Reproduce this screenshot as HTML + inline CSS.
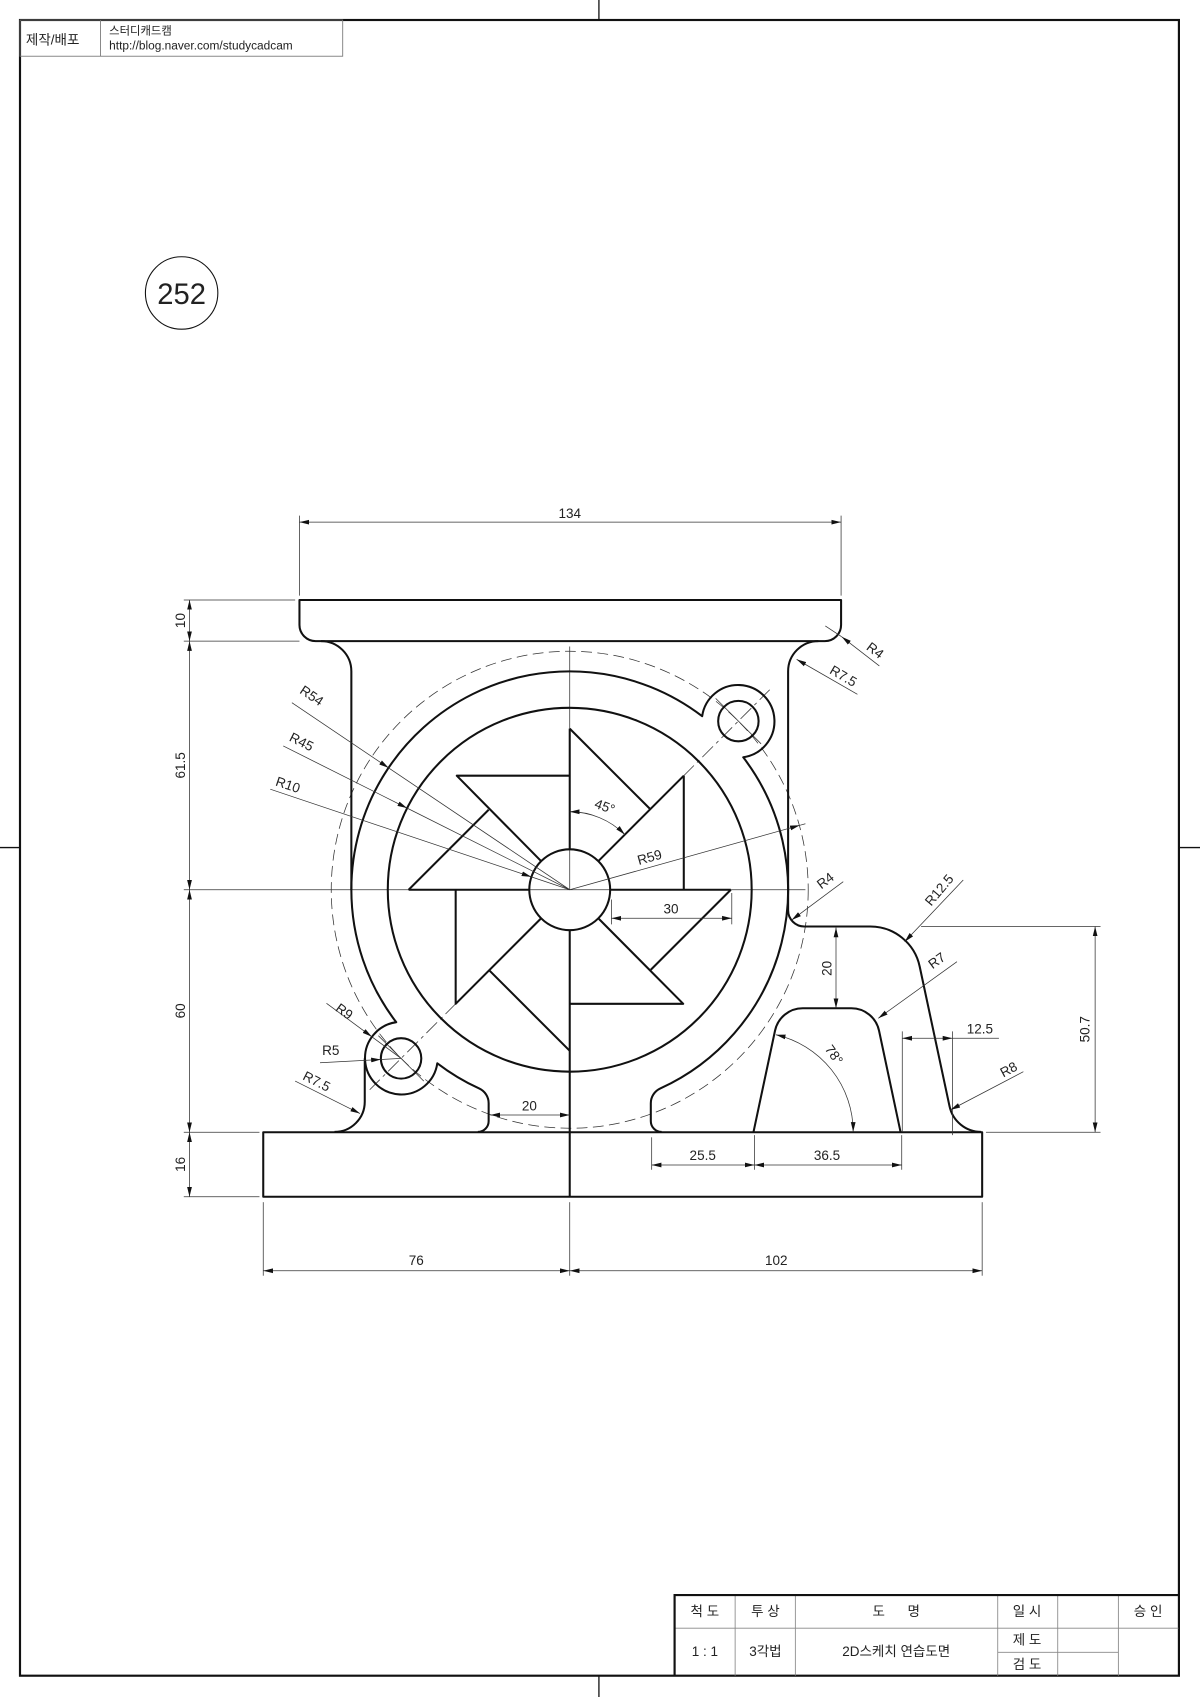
<!DOCTYPE html>
<html><head><meta charset="utf-8"><style>
html,body{margin:0;padding:0;background:#fff;}
svg{display:block;}
text{font-family:"Liberation Sans","Noto Sans CJK KR",sans-serif;fill:#222;}
</style></head><body>
<svg width="1200" height="1697" viewBox="0 0 1110 1569.7" preserveAspectRatio="none" xmlns="http://www.w3.org/2000/svg">
<defs>
<marker id="a" markerUnits="userSpaceOnUse" markerWidth="10" markerHeight="6" refX="9" refY="3" orient="auto-start-reverse" viewBox="0 0 10 6"><path d="M0,0.8 L9,3 L0,5.2 Z" fill="#111"/></marker>
</defs>
<rect x="0" y="0" width="1110" height="1570" fill="#fff"/>
<!-- frame -->
<rect x="18.5" y="18.5" width="1072" height="1531.5" fill="none" stroke="#111" stroke-width="2"/>
<g stroke="#111" stroke-width="1.2">
<line x1="554" y1="0" x2="554" y2="18"/><line x1="554" y1="1550" x2="554" y2="1570"/>
<line x1="0" y1="784" x2="18" y2="784"/><line x1="1090" y1="784" x2="1110" y2="784"/>
</g>
<!-- top-left box -->
<g stroke="#777" stroke-width="0.8" fill="none">
<rect x="18.5" y="18.5" width="298.5" height="33.5"/><line x1="93" y1="18.5" x2="93" y2="52"/>
</g>
<text x="24" y="41" font-size="12.5">제작/배포</text>
<text x="101" y="32" font-size="10.5">스터디캐드캠</text>
<text x="101" y="46" font-size="11">http://blog.naver.com/studycadcam</text>
<!-- 252 -->
<circle cx="168" cy="271" r="33.5" fill="none" stroke="#111" stroke-width="1"/>
<text x="168" y="281" font-size="27" text-anchor="middle">252</text>

<!-- title block -->
<g stroke="#888" stroke-width="0.8" fill="none">
<line x1="624" y1="1506" x2="1090" y2="1506"/>
<line x1="923" y1="1528.4" x2="1034.5" y2="1528.4"/>
<line x1="680" y1="1475.4" x2="680" y2="1550"/>
<line x1="735.7" y1="1475.4" x2="735.7" y2="1550"/>
<line x1="922.9" y1="1475.4" x2="922.9" y2="1550"/>
<line x1="978.4" y1="1475.4" x2="978.4" y2="1550"/>
<line x1="1034.5" y1="1475.4" x2="1034.5" y2="1550"/>
</g>
<g stroke="#111" stroke-width="2" fill="none">
<line x1="623" y1="1475.4" x2="1090" y2="1475.4"/>
<line x1="624" y1="1475.4" x2="624" y2="1550"/>
</g>
<g font-size="12.5" text-anchor="middle">
<text x="652" y="1495">척 도</text>
<text x="708" y="1495">투 상</text>
<text x="829" y="1495">도 &#160; &#160; &#160;명</text>
<text x="950" y="1495">일 시</text>
<text x="1062" y="1495">승 인</text>
<text x="652" y="1532">1 : 1</text>
<text x="708" y="1532">3각법</text>
<text x="829" y="1532">2D스케치 연습도면</text>
<text x="950" y="1521">제 도</text>
<text x="950" y="1544">검 도</text>
</g>

<!-- thin center lines -->
<g stroke="#333" stroke-width="0.7" fill="none">
<line x1="170" y1="823" x2="745" y2="823"/>
<line x1="527" y1="598" x2="527" y2="823"/>
<circle cx="527" cy="823" r="220.6" stroke-dasharray="10,5"/>
<line x1="632" y1="718" x2="712" y2="638" stroke-dasharray="14,4,3,4"/>
<line x1="662" y1="646" x2="704" y2="688"/>
<line x1="422" y1="928" x2="342" y2="1008" stroke-dasharray="14,4,3,4"/>
<line x1="350" y1="958" x2="392" y2="1000"/>
</g>

<!-- thick geometry -->
<g stroke="#111" stroke-width="1.9" fill="none" stroke-linejoin="round">
<path d="M277,555 H778 V578 A15,15 0 0 1 763,593 H292 A15,15 0 0 1 277,578 Z"/>
<path d="M297,593 A28,28 0 0 1 325,621 V823"/>
<path d="M757,593 A28,28 0 0 0 729,621 V842 A15,15 0 0 0 744,857 H805 A46.7,46.7 0 0 1 850.7,894 L878.3,1023.2 A30,30 0 0 0 907.6,1047"/>
<rect x="243.5" y="1047.3" width="665" height="59.7"/>
<!-- ring outer -->
<path d="M325,823 A201.9,201.9 0 0 0 366.5,945.5 A33.6,33.6 0 1 0 404.5,983.5 A201.9,201.9 0 0 0 443.2,1006.8 A15,15 0 0 1 452,1020.5 V1037 A10,10 0 0 1 442,1047"/>
<path d="M337.4,979 V1019 A28,28 0 0 1 309.4,1047"/>
<path d="M612,1047 A10,10 0 0 1 602,1037 V1020.5 A15,15 0 0 1 610.8,1006.8 A201.9,201.9 0 0 0 687.5,700.5 A33.6,33.6 0 1 0 649.5,662.5 A201.9,201.9 0 0 0 325,823"/>
<circle cx="527" cy="823" r="168.3"/>
<circle cx="527" cy="823" r="37.4"/>
<circle cx="371" cy="979" r="18.7"/>
<circle cx="683" cy="667" r="18.7"/>
<!-- hump -->
<path d="M697,1047 L716.9,953.3 A26.2,26.2 0 0 1 742.5,932.6 H787.5 A26.2,26.2 0 0 1 813.1,953.3 L833,1047"/>
<!-- pinwheel -->
<line x1="378" y1="823" x2="489.6" y2="823"/>
<line x1="527" y1="674" x2="527" y2="785.6"/>
<line x1="676" y1="823" x2="564.4" y2="823"/>
<line x1="527" y1="860.4" x2="527" y2="1107"/>
<line x1="378" y1="823" x2="452" y2="749"/>
<line x1="527" y1="674" x2="601" y2="748"/>
<line x1="676" y1="823" x2="602" y2="897"/>
<line x1="527" y1="972" x2="453" y2="898"/>
<path d="M527,717.5 H422.5 L500.6,796.6"/>
<path d="M632.5,717.5 V823 M632.5,717.5 L553.4,796.6"/>
<path d="M527,928.5 H632 L553.4,849.4"/>
<path d="M421.5,823 V928.5 L500.6,849.4"/>
</g>

<!-- dimensions -->
<g stroke="#333" stroke-width="0.7" fill="none">
<!-- 134 -->
<line x1="277" y1="477" x2="277" y2="551"/><line x1="778" y1="477" x2="778" y2="551"/>
<line x1="277" y1="483" x2="778" y2="483" marker-start="url(#a)" marker-end="url(#a)"/>
<!-- left ext -->
<line x1="170" y1="555" x2="273" y2="555"/>
<line x1="170" y1="593" x2="277" y2="593"/>
<line x1="170" y1="1047.3" x2="240" y2="1047.3"/>
<line x1="170" y1="1107" x2="240" y2="1107"/>
<line x1="175.3" y1="555" x2="175.3" y2="593" marker-start="url(#a)" marker-end="url(#a)"/>
<line x1="175.3" y1="593" x2="175.3" y2="823" marker-start="url(#a)" marker-end="url(#a)"/>
<line x1="175.3" y1="823" x2="175.3" y2="1047.3" marker-start="url(#a)" marker-end="url(#a)"/>
<line x1="175.3" y1="1047.3" x2="175.3" y2="1107" marker-start="url(#a)" marker-end="url(#a)"/>
<!-- bottom 76/102 -->
<line x1="243.5" y1="1112" x2="243.5" y2="1180"/><line x1="527" y1="1112" x2="527" y2="1180"/><line x1="908.5" y1="1112" x2="908.5" y2="1180"/>
<line x1="243.5" y1="1175.4" x2="527" y2="1175.4" marker-start="url(#a)" marker-end="url(#a)"/>
<line x1="527" y1="1175.4" x2="908.5" y2="1175.4" marker-start="url(#a)" marker-end="url(#a)"/>
<!-- 20 bottom -->
<line x1="453.5" y1="1031.4" x2="527" y2="1031.4" marker-start="url(#a)" marker-end="url(#a)"/>
<!-- 25.5 / 36.5 -->
<line x1="602.8" y1="1052" x2="602.8" y2="1082"/><line x1="697.9" y1="1050" x2="697.9" y2="1082"/><line x1="834.1" y1="1050" x2="834.1" y2="1082"/>
<line x1="602.8" y1="1077.6" x2="697.9" y2="1077.6" marker-start="url(#a)" marker-end="url(#a)"/>
<line x1="697.9" y1="1077.6" x2="834.1" y2="1077.6" marker-start="url(#a)" marker-end="url(#a)"/>
<!-- 30 -->
<line x1="676.9" y1="826" x2="676.9" y2="855"/><line x1="565.6" y1="832" x2="565.6" y2="855"/>
<line x1="565.6" y1="849.4" x2="676.9" y2="849.4" marker-start="url(#a)" marker-end="url(#a)"/>
<!-- 12.5 -->
<line x1="834.6" y1="954" x2="834.6" y2="1047"/><line x1="881" y1="954" x2="881" y2="1050"/>
<line x1="834.6" y1="960.4" x2="881" y2="960.4" marker-start="url(#a)" marker-end="url(#a)"/>
<line x1="881" y1="960.4" x2="924" y2="960.4"/>
<!-- 50.7 -->
<line x1="852" y1="857" x2="1018" y2="857"/><line x1="912" y1="1047.3" x2="1018" y2="1047.3"/>
<line x1="1013" y1="857" x2="1013" y2="1047.3" marker-start="url(#a)" marker-end="url(#a)"/>
<!-- 20 vertical -->
<line x1="773.3" y1="858" x2="773.3" y2="932.6" marker-start="url(#a)" marker-end="url(#a)"/>
<!-- 78 -->
<path d="M717.7,957.1 A92.2,92.2 0 0 1 789.2,1047" marker-start="url(#a)" marker-end="url(#a)"/>
<!-- 45 -->
<path d="M527,750.8 A72.2,72.2 0 0 1 578,772" marker-start="url(#a)" marker-end="url(#a)"/>
<!-- radius leaders to center -->
<line x1="270" y1="650" x2="359.5" y2="710.3" marker-end="url(#a)"/><line x1="359.5" y1="710.3" x2="527" y2="823"/>
<line x1="262" y1="690" x2="376.6" y2="747.5" marker-end="url(#a)"/><line x1="376.6" y1="747.5" x2="527" y2="823"/>
<line x1="250" y1="730" x2="491.5" y2="811.1" marker-end="url(#a)"/><line x1="491.5" y1="811.1" x2="527" y2="823"/>
<line x1="527" y1="823" x2="739.8" y2="763.4" marker-end="url(#a)"/><line x1="739.8" y1="763.4" x2="745" y2="762"/>
<!-- R9 R5 R7.5 -->
<line x1="302" y1="928" x2="344" y2="959" marker-end="url(#a)"/><line x1="344" y1="959" x2="371" y2="979"/>
<line x1="296" y1="983" x2="352.3" y2="980" marker-end="url(#a)"/><line x1="352.3" y1="980" x2="371" y2="979"/>
<line x1="273" y1="1000" x2="333" y2="1030" marker-end="url(#a)"/>
<!-- top-right R4, R7.5 -->
<line x1="813.4" y1="616" x2="778.6" y2="589" marker-end="url(#a)"/><line x1="778.6" y1="589" x2="763.4" y2="579"/>
<line x1="793.1" y1="642.2" x2="736.9" y2="609.9" marker-end="url(#a)"/>
<!-- right R4 R12.5 R7 R8 -->
<line x1="780" y1="815.5" x2="732.3" y2="851" marker-end="url(#a)"/>
<line x1="891" y1="814" x2="836.8" y2="871.1" marker-end="url(#a)"/>
<line x1="885.2" y1="889.5" x2="812.4" y2="941.9" marker-end="url(#a)"/>
<line x1="946.6" y1="991.3" x2="879.2" y2="1026.6" marker-end="url(#a)"/>
</g>

<!-- dimension texts -->
<g font-size="12.5" text-anchor="middle">
<text x="527" y="479">134</text>
<text transform="translate(171,574) rotate(-90)">10</text>
<text transform="translate(171,708) rotate(-90)">61.5</text>
<text transform="translate(171,935) rotate(-90)">60</text>
<text transform="translate(171,1077) rotate(-90)">16</text>
<text x="385" y="1170">76</text>
<text x="718" y="1170">102</text>
<text x="489.7" y="1027">20</text>
<text x="650" y="1073">25.5</text>
<text x="765" y="1073">36.5</text>
<text x="620.7" y="845">30</text>
<text x="906.4" y="956">12.5</text>
<text transform="translate(1008,952) rotate(-90)">50.7</text>
<text transform="translate(769,895.7) rotate(-90)">20</text>
<text transform="translate(768,978) rotate(55)">78°</text>
<text transform="translate(558,750) rotate(20)">45°</text>
<text transform="translate(602,797) rotate(-15.6)">R59</text>
<text transform="translate(286,647) rotate(34)">R54</text>
<text transform="translate(277,690) rotate(26.6)">R45</text>
<text transform="translate(265,730) rotate(18.6)">R10</text>
<text transform="translate(316,939) rotate(36)">R9</text>
<text x="306" y="976">R5</text>
<text transform="translate(291,1004) rotate(27)">R7.5</text>
<text transform="translate(807,605) rotate(37)">R4</text>
<text transform="translate(778,629) rotate(30)">R7.5</text>
<text transform="translate(766,818) rotate(-37)">R4</text>
<text transform="translate(872,826) rotate(-50)">R12.5</text>
<text transform="translate(869,892) rotate(-36)">R7</text>
<text transform="translate(935,993) rotate(-28)">R8</text>
</g>
</svg>
</body></html>
